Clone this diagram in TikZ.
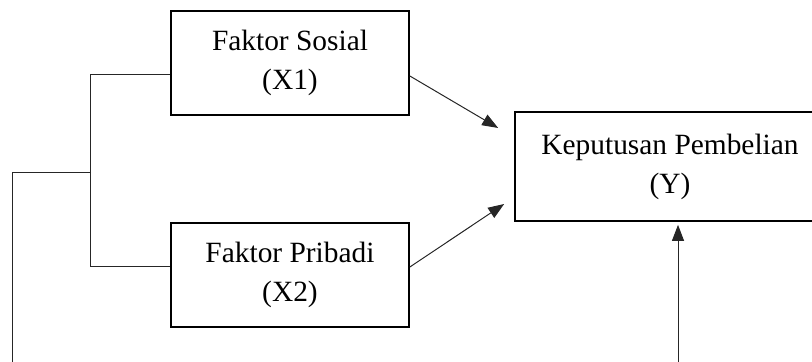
\documentclass[tikz,border=0pt]{standalone}
\usepackage{fontspec}
\setmainfont{Liberation Serif}
\usetikzlibrary{arrows.meta}
\begin{document}
\begin{tikzpicture}[x=0.5pt,y=-0.5pt,
  box/.style={draw=black,line width=0.85pt,minimum width=119pt,minimum height=52pt,align=center,inner sep=0pt,
    font=\fontsize{14.7pt}{19.5pt}\selectfont},
  conn/.style={draw=black!85,line width=0.5pt},
  arr/.style={conn,-{Triangle[length=8pt,width=6pt]}}]
\useasboundingbox (0,0) rectangle (812,362);
\clip (0,0) rectangle (812,362);
\node[box] (x1) at (290,63) {Faktor Sosial\\(X1)};
\node[box] (x2) at (290,275) {Faktor Pribadi\\(X2)};
\node[box,minimum width=155pt,minimum height=54.5pt] (y) at (670,166.5) {Keputusan Pembelian\\(Y)};
\coordinate (j) at (91,173);
\coordinate (b1) at (12,173);
\coordinate (b2) at (12,370);
\coordinate (b3) at (678,370);
\draw[conn] ([yshift=-6pt]x1.west) -- ++(-40pt,0) |- ([yshift=4pt]x2.west);
\draw[conn] (j) -- (b1) -- (b2);
\draw[arr] ([yshift=-6.5pt]x1.east) -- ([xshift=-8pt,yshift=19.25pt]y.west);
\draw[arr] ([yshift=4pt]x2.east) -- ([xshift=-5pt,yshift=-18.75pt]y.west);
\draw[arr] (b3) -- ([yshift=-1.5pt]y.south -| b3);
\end{tikzpicture}
\end{document}
